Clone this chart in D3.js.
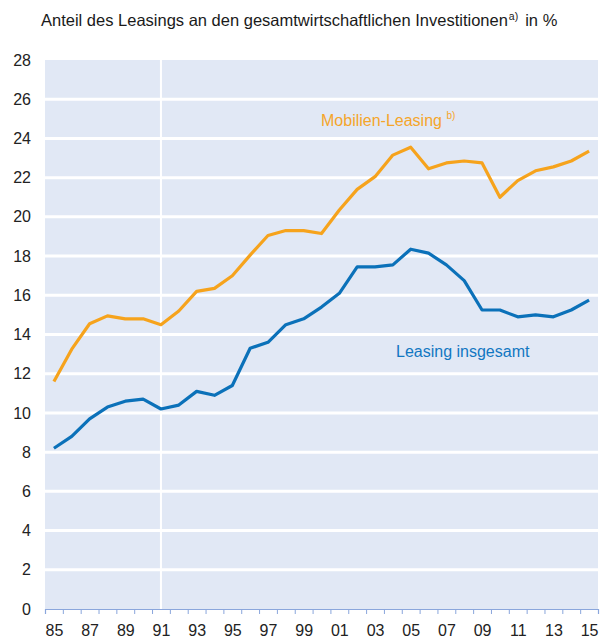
<!DOCTYPE html>
<html>
<head>
<meta charset="utf-8">
<script src="https://cdn.jsdelivr.net/npm/d3@7"></script>
<style>
  html, body { margin: 0; padding: 0; background: #fff; }
  svg { display: block; font-family: "Liberation Sans", Arial, sans-serif; }
</style>
</head>
<body>
<svg id="chart" width="606" height="643"></svg>
<script>
// ---- data ----
const years = d3.range(1985, 2016);
const mobilienLeasing = [11.6, 13.25, 14.55, 14.95, 14.8, 14.8, 14.5, 15.2, 16.2, 16.35,
  17.0, 18.05, 19.05, 19.3, 19.3, 19.15, 20.35, 21.4, 22.05, 23.15,
  23.55, 22.45, 22.75, 22.85, 22.75, 21.0, 21.85, 22.35, 22.55, 22.85, 23.35];
const leasingGesamt = [8.2, 8.8, 9.7, 10.3, 10.6, 10.7, 10.2, 10.4, 11.1, 10.9,
  11.4, 13.3, 13.6, 14.5, 14.8, 15.4, 16.1, 17.45, 17.45, 17.55,
  18.35, 18.15, 17.55, 16.75, 15.25, 15.25, 14.9, 15.0, 14.9, 15.25, 15.75];
const yTicks = d3.range(0, 29, 2);
const xTickLabels = d3.range(1985, 2016, 2);
const titleText = "Anteil des Leasings an den gesamtwirtschaftlichen Investitionen";
const titleSup = "a)";
const titleEnd = "in %";
const breakYear = 1991;

// ---- layout ----
const svg = d3.select("#chart");
const x = d3.scaleLinear().domain([1984.5, 2015.5]).range([45, 598]);
const y = d3.scaleLinear().domain([0, 28]).range([609, 60]);

// title
const title = svg.append("text").attr("x", 41).attr("y", 26)
  .attr("font-size", 16.5).attr("fill", "#1a1a1a");
title.append("tspan").text(titleText);
title.append("tspan").text(titleSup).attr("font-size", 10.5).attr("dx", 1).attr("dy", -6);
title.append("tspan").text(titleEnd).attr("dx", 7).attr("dy", 6);

// background
svg.append("rect")
  .attr("x", x(1984.5)).attr("y", y(28))
  .attr("width", x(2015.5) - x(1984.5)).attr("height", y(0) - y(28))
  .attr("fill", "#e1e8f5");

// horizontal white gridlines
svg.append("g").selectAll("line")
  .data(yTicks.filter(d => d > 0 && d < 28))
  .join("line")
  .attr("x1", x(1984.5)).attr("x2", x(2015.5))
  .attr("y1", d => y(d)).attr("y2", d => y(d))
  .attr("stroke", "#fff").attr("stroke-width", 3);

// vertical break line at 1991
svg.append("line")
  .attr("x1", x(breakYear)).attr("x2", x(breakYear))
  .attr("y1", y(28)).attr("y2", y(0) + 4)
  .attr("stroke", "#fff").attr("stroke-width", 2);

// y axis labels
const yAxis = d3.axisLeft(y).tickValues(yTicks).tickSize(0).tickPadding(0);
const gy = svg.append("g").attr("transform", "translate(31,0)").call(yAxis);
gy.select(".domain").remove();
gy.selectAll("text").attr("font-size", 16).attr("fill", "#222")
  .attr("font-family", "Liberation Sans, Arial, sans-serif");

// x axis: tick marks at year boundaries
const xAxis = d3.axisBottom(x)
  .tickValues(d3.range(1984.5, 2016, 1))
  .tickSize(5).tickFormat("");
const gx = svg.append("g").attr("transform", `translate(0,${y(0)})`).call(xAxis);
gx.select(".domain").attr("stroke", "#8aa6dc").attr("stroke-width", 1.2);
gx.selectAll(".tick line").attr("stroke", "#8aa6dc").attr("stroke-width", 1);

// x labels
const xLab = d3.axisBottom(x).tickValues(xTickLabels).tickSize(0).tickPadding(0)
  .tickFormat(d => String(d % 100).padStart(2, "0"));
const gxl = svg.append("g").attr("transform", `translate(0,${y(0) + 16})`).call(xLab);
gxl.select(".domain").remove();
gxl.selectAll("text").attr("font-size", 16).attr("fill", "#222")
  .attr("font-family", "Liberation Sans, Arial, sans-serif");

// lines
const line = d3.line().x((d, i) => x(years[i])).y(d => y(d));
svg.append("path").datum(mobilienLeasing).attr("d", line)
  .attr("fill", "none").attr("stroke", "#f6a31c").attr("stroke-width", 3.2)
  .attr("stroke-linejoin", "round");
svg.append("path").datum(leasingGesamt).attr("d", line)
  .attr("fill", "none").attr("stroke", "#0b71b9").attr("stroke-width", 3.2)
  .attr("stroke-linejoin", "round");

// labels
const lm = svg.append("text").attr("x", 321).attr("y", 126)
  .attr("font-size", 16).attr("fill", "#f5a52a");
lm.append("tspan").text("Mobilien-Leasing ");
lm.append("tspan").text("b)").attr("font-size", 10).attr("dy", -7);

svg.append("text").attr("x", 396).attr("y", 357)
  .attr("font-size", 16).attr("fill", "#1177c2").text("Leasing insgesamt");
</script>
</body>
</html>
